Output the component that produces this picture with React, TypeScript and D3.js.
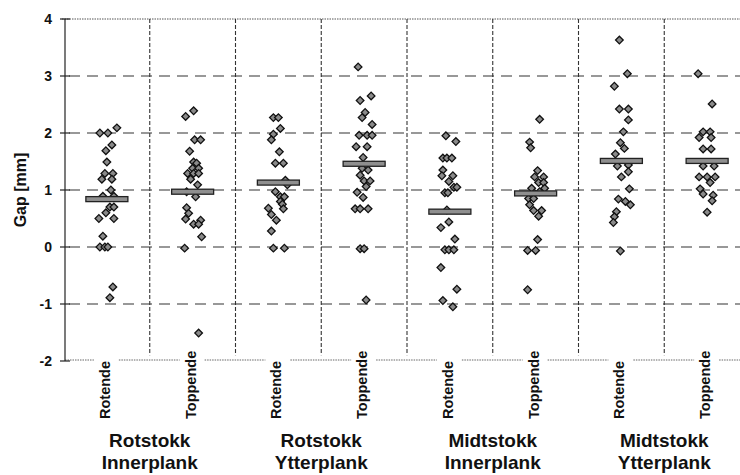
import React from "react";
import * as d3 from "d3";

// Columns: two log ends for each stock/plank combination
const columns = ["RI-R", "RI-T", "RY-R", "RY-T", "MI-R", "MI-T", "MY-R", "MY-T"];
const endLabels = ["Rotende", "Toppende", "Rotende", "Toppende", "Rotende", "Toppende", "Rotende", "Toppende"];
const groupStock = ["Rotstokk", "Rotstokk", "Midtstokk", "Midtstokk"];
const groupPlank = ["Innerplank", "Ytterplank", "Innerplank", "Ytterplank"];

const yTicks = [4, 3, 2, 1, 0, -1, -2];
const gridValues = [3, 2, 1, 0, -1];

// Mean gap per column [mm]
const means = [0.84, 0.97, 1.13, 1.46, 0.62, 0.94, 1.51, 1.51];

// Gap readings [mm], each with a horizontal jitter in [-1, 1]
const rotInnerRot: [number, number][] = [
  [2.0, -0.7], [2.0, 0.1], [2.09, 1.0], [1.79, 0.5], [1.69, -0.1], [1.49, 0], [1.29, -0.2], [1.29, 0.6],
  [1.19, -0.5], [1.19, 0.5], [1.0, 0.4], [0.89, -0.4], [0.89, 0.7], [0.7, 0.3], [0.7, 0.7], [0.6, -0.1],
  [0.5, -0.8], [0.5, 0.7], [0.19, -0.4], [0, -0.7], [0, -0.2], [0, 0.1], [-0.7, 0.6], [-0.89, 0.3],
];
const rotInnerTopp: [number, number][] = [
  [2.29, -0.7], [2.39, 0.1], [1.88, 0.2], [1.88, 0.8], [1.68, -0.3], [1.49, 0.1], [1.47, 0.4], [1.38, 0],
  [1.38, 0.6], [1.29, -0.5], [1.29, 0.1], [1.29, 0.6], [1.19, -0.2], [1.09, 0.5], [0.97, -0.6], [0.88, 0.3],
  [0.69, -0.6], [0.59, -0.4], [0.49, -0.7], [0.47, 0.8], [0.4, 0.1], [0.4, 0.6], [0.18, 0.9], [-0.02, -0.8],
  [-1.51, 0.6],
];
const rotYtterRot: [number, number][] = [
  [2.27, -0.5], [2.27, 0], [2.08, 0.2], [1.98, -0.5], [1.88, -0.7], [1.67, 0.1], [1.47, -0.3], [1.47, 0.5],
  [1.17, 0.7], [1.09, 0.9], [0.97, -0.3], [0.88, 0.2], [0.88, 0.6], [0.8, 0.2], [0.75, 0.4], [0.68, -1.0],
  [0.67, 0.5], [0.57, -0.7], [0.47, -0.2], [0.28, -0.7], [-0.02, -0.5], [-0.02, 0.6],
];
const rotYtterTopp: [number, number][] = [
  [3.16, -0.6], [2.65, 0.7], [2.57, -0.4], [2.36, 0.1], [2.27, -0.2], [2.15, 0.8], [1.96, -0.5], [1.96, 0.3],
  [1.96, 0.8], [1.76, -0.8], [1.76, 0.3], [1.57, -0.1], [1.38, -0.2], [1.35, 0.4], [1.26, -0.4], [1.16, 0],
  [1.16, 0.6], [1.06, 0.2], [0.96, -0.7], [0.87, -0.1], [0.67, -0.9], [0.67, -0.4], [0.67, 0.4], [-0.03, -0.4],
  [-0.03, 0], [-0.93, 0.2],
];
const midInnerRot: [number, number][] = [
  [1.95, -0.4], [1.85, 0.6], [1.56, -0.7], [1.56, -0.3], [1.56, 0.2], [1.35, -0.7], [1.25, -0.8], [1.25, 0.3],
  [1.15, -0.1], [1.05, 0.4], [1.05, 0.7], [0.95, -0.5], [0.95, -0.2], [0.65, -0.3], [0.44, -0.1], [0.34, -0.9],
  [0.14, 0.5], [-0.05, -0.5], [-0.05, -0.1], [-0.05, 0.4], [-0.36, -0.9], [-0.74, 0.7], [-0.94, -0.7], [-1.05, 0.3],
];
const midInnerTopp: [number, number][] = [
  [2.24, 0.4], [1.84, -0.6], [1.74, -0.5], [1.34, 0.2], [1.23, -0.1], [1.23, 0.8], [1.13, 0.3], [1.13, 0.8],
  [1.03, -0.4], [1.03, 0.9], [0.97, 0.4], [0.94, -0.1], [0.85, -0.7], [0.85, -0.2], [0.74, -0.6], [0.64, -0.2],
  [0.64, 0.6], [0.54, 0.3], [0.13, 0.2], [-0.06, -0.8], [-0.06, 0], [-0.75, -0.8],
];
const midYtterRot: [number, number][] = [
  [3.63, -0.2], [3.04, 0.6], [2.82, -0.7], [2.42, -0.2], [2.42, 0.7], [2.23, 0.7], [2.02, 0.2], [1.83, -0.1],
  [1.73, 0.3], [1.63, -0.6], [1.44, 0.7], [1.42, -0.4], [1.32, 0.7], [1.23, 0], [1.02, 0.8], [0.84, -0.3],
  [0.8, 0.4], [0.74, 0.9], [0.62, -0.5], [0.53, -0.7], [0.43, -0.8], [-0.07, -0.1],
];
const midYtterTopp: [number, number][] = [
  [3.04, -0.9], [2.51, 0.5], [2.02, -0.4], [2.02, 0.3], [1.92, -0.8], [1.92, 0.4], [1.72, -0.4], [1.72, 0.4],
  [1.42, -0.4], [1.42, 0.7], [1.23, -0.8], [1.23, 0], [1.23, 0.8], [1.13, 0.3], [1.02, -0.7], [0.93, -0.4],
  [0.91, 0.6], [0.81, 0.5], [0.61, 0],
];

const series = [
  rotInnerRot, rotInnerTopp, rotYtterRot, rotYtterTopp,
  midInnerRot, midInnerTopp, midYtterRot, midYtterTopp,
];

const W = 740;
const H = 475;
const left = 65;
const top = 19;
const bottom = 361;
const FONT = "'Liberation Sans', Arial, Helvetica, sans-serif";

export default function App() {
  const x = d3.scaleBand<string>().domain(columns).range([64, 750]).padding(0);
  const y = d3.scaleLinear().domain([-2, 4]).range([bottom, top]);
  const jitter = d3.scaleLinear().domain([-1, 1]).range([-10, 10]);
  const bw = x.bandwidth();
  const cx = (c: string) => (x(c) ?? 0) + bw / 2;
  const diamond = d3.symbol().type(d3.symbolSquare).size(29)();

  const separators = columns.slice(1).map((c) => x(c) ?? 0);

  // bottom frame, broken where the rotated end labels sit
  const bottomSegs: [number, number][] = [];
  let start = left;
  columns.forEach((c) => {
    bottomSegs.push([start, cx(c) - 13]);
    start = cx(c) + 12;
  });
  bottomSegs.push([start, W]);

  return (
    <svg
      width={W}
      height={H}
      style={{ position: "absolute", left: 0, top: 0, background: "#fff" }}
      fontFamily={FONT}
    >
      {/* top frame */}
      <line x1={left - 3} x2={W} y1={top} y2={top} stroke="#555" strokeWidth={1} strokeDasharray="1.5,1" />
      {/* bottom frame */}
      {bottomSegs.map(([a, b], i) => (
        <line key={i} x1={a} x2={b} y1={bottom - 1} y2={bottom - 1} stroke="#666" strokeWidth={1} strokeDasharray="1.5,1" />
      ))}

      {/* horizontal grid */}
      {gridValues.map((v) => (
        <line
          key={v}
          x1={left + 4}
          x2={W}
          y1={y(v)}
          y2={y(v)}
          stroke="#333"
          strokeWidth={1.1}
          strokeDasharray="11,7"
        />
      ))}

      {/* column separators */}
      {separators.map((sx, i) => (
        <line
          key={i}
          x1={sx}
          x2={sx}
          y1={top}
          y2={y(-1.9)}
          stroke="#333"
          strokeWidth={1.1}
          strokeDasharray="4,2"
        />
      ))}

      {/* y axis */}
      <line x1={left} x2={left} y1={top} y2={bottom} stroke="#333" strokeWidth={1.3} />
      {yTicks.map((v) => (
        <g key={v}>
          <line x1={left - 5} x2={left + 5} y1={y(v)} y2={y(v)} stroke="#222" strokeWidth={1.2} />
          <text
            x={52}
            y={y(v)}
            dy="0.35em"
            textAnchor="end"
            fontSize={14}
            fontWeight="bold"
            fill="#111"
          >
            {v}
          </text>
        </g>
      ))}
      <text
        transform={`translate(26,${y(1)}) rotate(-90)`}
        textAnchor="middle"
        fontSize={16}
        fontWeight="bold"
        fill="#111"
      >
        Gap [mm]
      </text>

      {/* points */}
      {series.map((pts, ci) =>
        pts.map(([v, j], pi) => (
          <path
            key={`${ci}-${pi}`}
            d={diamond ?? ""}
            transform={`translate(${cx(columns[ci]) + jitter(j)},${y(v)}) rotate(45)`}
            fill="#8a8a8a"
            stroke="#111"
            strokeWidth={1.3}
          />
        ))
      )}

      {/* mean bars */}
      {means.map((m, ci) => (
        <rect
          key={ci}
          x={cx(columns[ci]) - 21}
          y={y(m) - 2.5}
          width={42}
          height={5}
          fill="#8f8f8f"
          stroke="#222"
          strokeWidth={1.3}
        />
      ))}

      {/* end labels */}
      {columns.map((c, i) => (
        <text
          key={c}
          transform={`translate(${cx(c) + 3},419) rotate(-90)`}
          textAnchor="start"
          fontSize={14.5}
          fontWeight="bold"
          fill="#111"
        >
          {endLabels[i]}
        </text>
      ))}

      {/* group labels, centred under each pair of columns */}
      {groupStock.map((s, gi) => {
        const gx = (x(columns[gi * 2]) ?? 0) + bw;
        return (
          <text key={gi} textAnchor="middle" fontSize={19} fontWeight="bold" fill="#111">
            <tspan x={gx} y={447}>
              {s}
            </tspan>
            <tspan x={gx} y={469}>
              {groupPlank[gi]}
            </tspan>
          </text>
        );
      })}
    </svg>
  );
}
